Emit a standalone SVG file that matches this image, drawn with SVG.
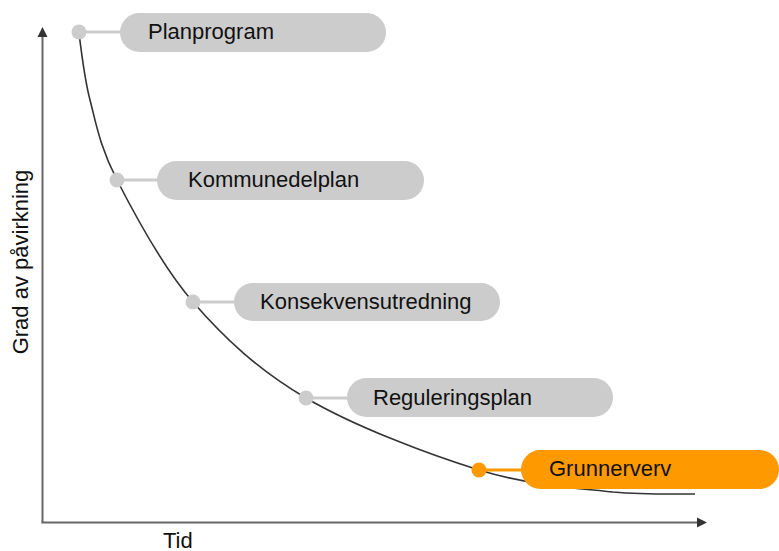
<svg xmlns="http://www.w3.org/2000/svg" width="779" height="551" viewBox="0 0 779 551">
<style>
.pill{fill:#cccccc}
.dot{fill:#cccccc}
.link{stroke:#cccccc;stroke-width:3;fill:none}
.opill{fill:#ff9900}
.odot{fill:#ff9900}
.olink{stroke:#ff9900;stroke-width:3;fill:none}
.lbl{font-family:"Liberation Sans",Arial,sans-serif;font-size:22px;fill:#111}
.axis{stroke:#666;stroke-width:2;fill:none}
.curve{stroke:#333;stroke-width:1.6;fill:none}
</style>
<defs>
<marker id="arr" viewBox="0 0 10 10" refX="0" refY="5" markerWidth="10" markerHeight="12" markerUnits="userSpaceOnUse" orient="auto">
<path d="M0,0 L10,5 L0,10 Z" fill="#333"/>
</marker>
</defs>
<g id="axes">
<path class="axis" d="M42.5,523 L42.5,37" marker-end="url(#arr)"/>
<path class="axis" d="M41.5,522.5 L697,522.5" marker-end="url(#arr)"/>
<text class="lbl" transform="translate(28,262) rotate(-90)" text-anchor="middle">Grad av påvirkning</text>
<text class="lbl" x="163" y="547.5">Tid</text>
</g>
<g id="connectors">
<path class="curve" d="M79,34 C80.8,45 83.7,75.7 90,100 C96.3,124.3 99.8,146.3 117,180 C134.2,213.7 161.5,265.7 193,302 C224.5,338.3 258.3,370 306,398 C353.7,426 427.8,454.3 479,470 C530.2,485.7 577,488 613,492 C649,495 681.3,493.7 695,494"/>
<line class="link" x1="79" y1="32" x2="122" y2="32"/>
<line class="link" x1="117" y1="180" x2="159" y2="180"/>
<line class="link" x1="193" y1="302" x2="236" y2="302"/>
<line class="link" x1="306" y1="398" x2="349" y2="398"/>
<line class="olink" x1="479" y1="470" x2="523" y2="470"/>
</g>
<g id="planprogram">
<rect class="pill" x="120" y="13" width="266" height="39" rx="19.5"/>
<circle class="dot" cx="79" cy="32" r="7.5"/>
<text class="lbl" x="148" y="39">Planprogram</text>
</g>
<g id="kommunedelplan">
<rect class="pill" x="157" y="161" width="267" height="39" rx="19.5"/>
<circle class="dot" cx="117" cy="180" r="7.5"/>
<text class="lbl" x="188" y="187">Kommunedelplan</text>
</g>
<g id="konsekvensutredning">
<rect class="pill" x="234" y="283" width="266" height="38" rx="19"/>
<circle class="dot" cx="193" cy="302" r="7.5"/>
<text class="lbl" x="260" y="308.5">Konsekvensutredning</text>
</g>
<g id="reguleringsplan">
<rect class="pill" x="347" y="378" width="266" height="39" rx="19.5"/>
<circle class="dot" cx="306" cy="398" r="7.5"/>
<text class="lbl" x="373" y="404.5">Reguleringsplan</text>
</g>
<g id="grunnerverv">
<rect class="opill" x="521" y="450" width="258" height="39" rx="19.5"/>
<circle class="odot" cx="479" cy="470" r="7.5"/>
<text class="lbl" x="549" y="475.5">Grunnerverv</text>
</g>
</svg>
